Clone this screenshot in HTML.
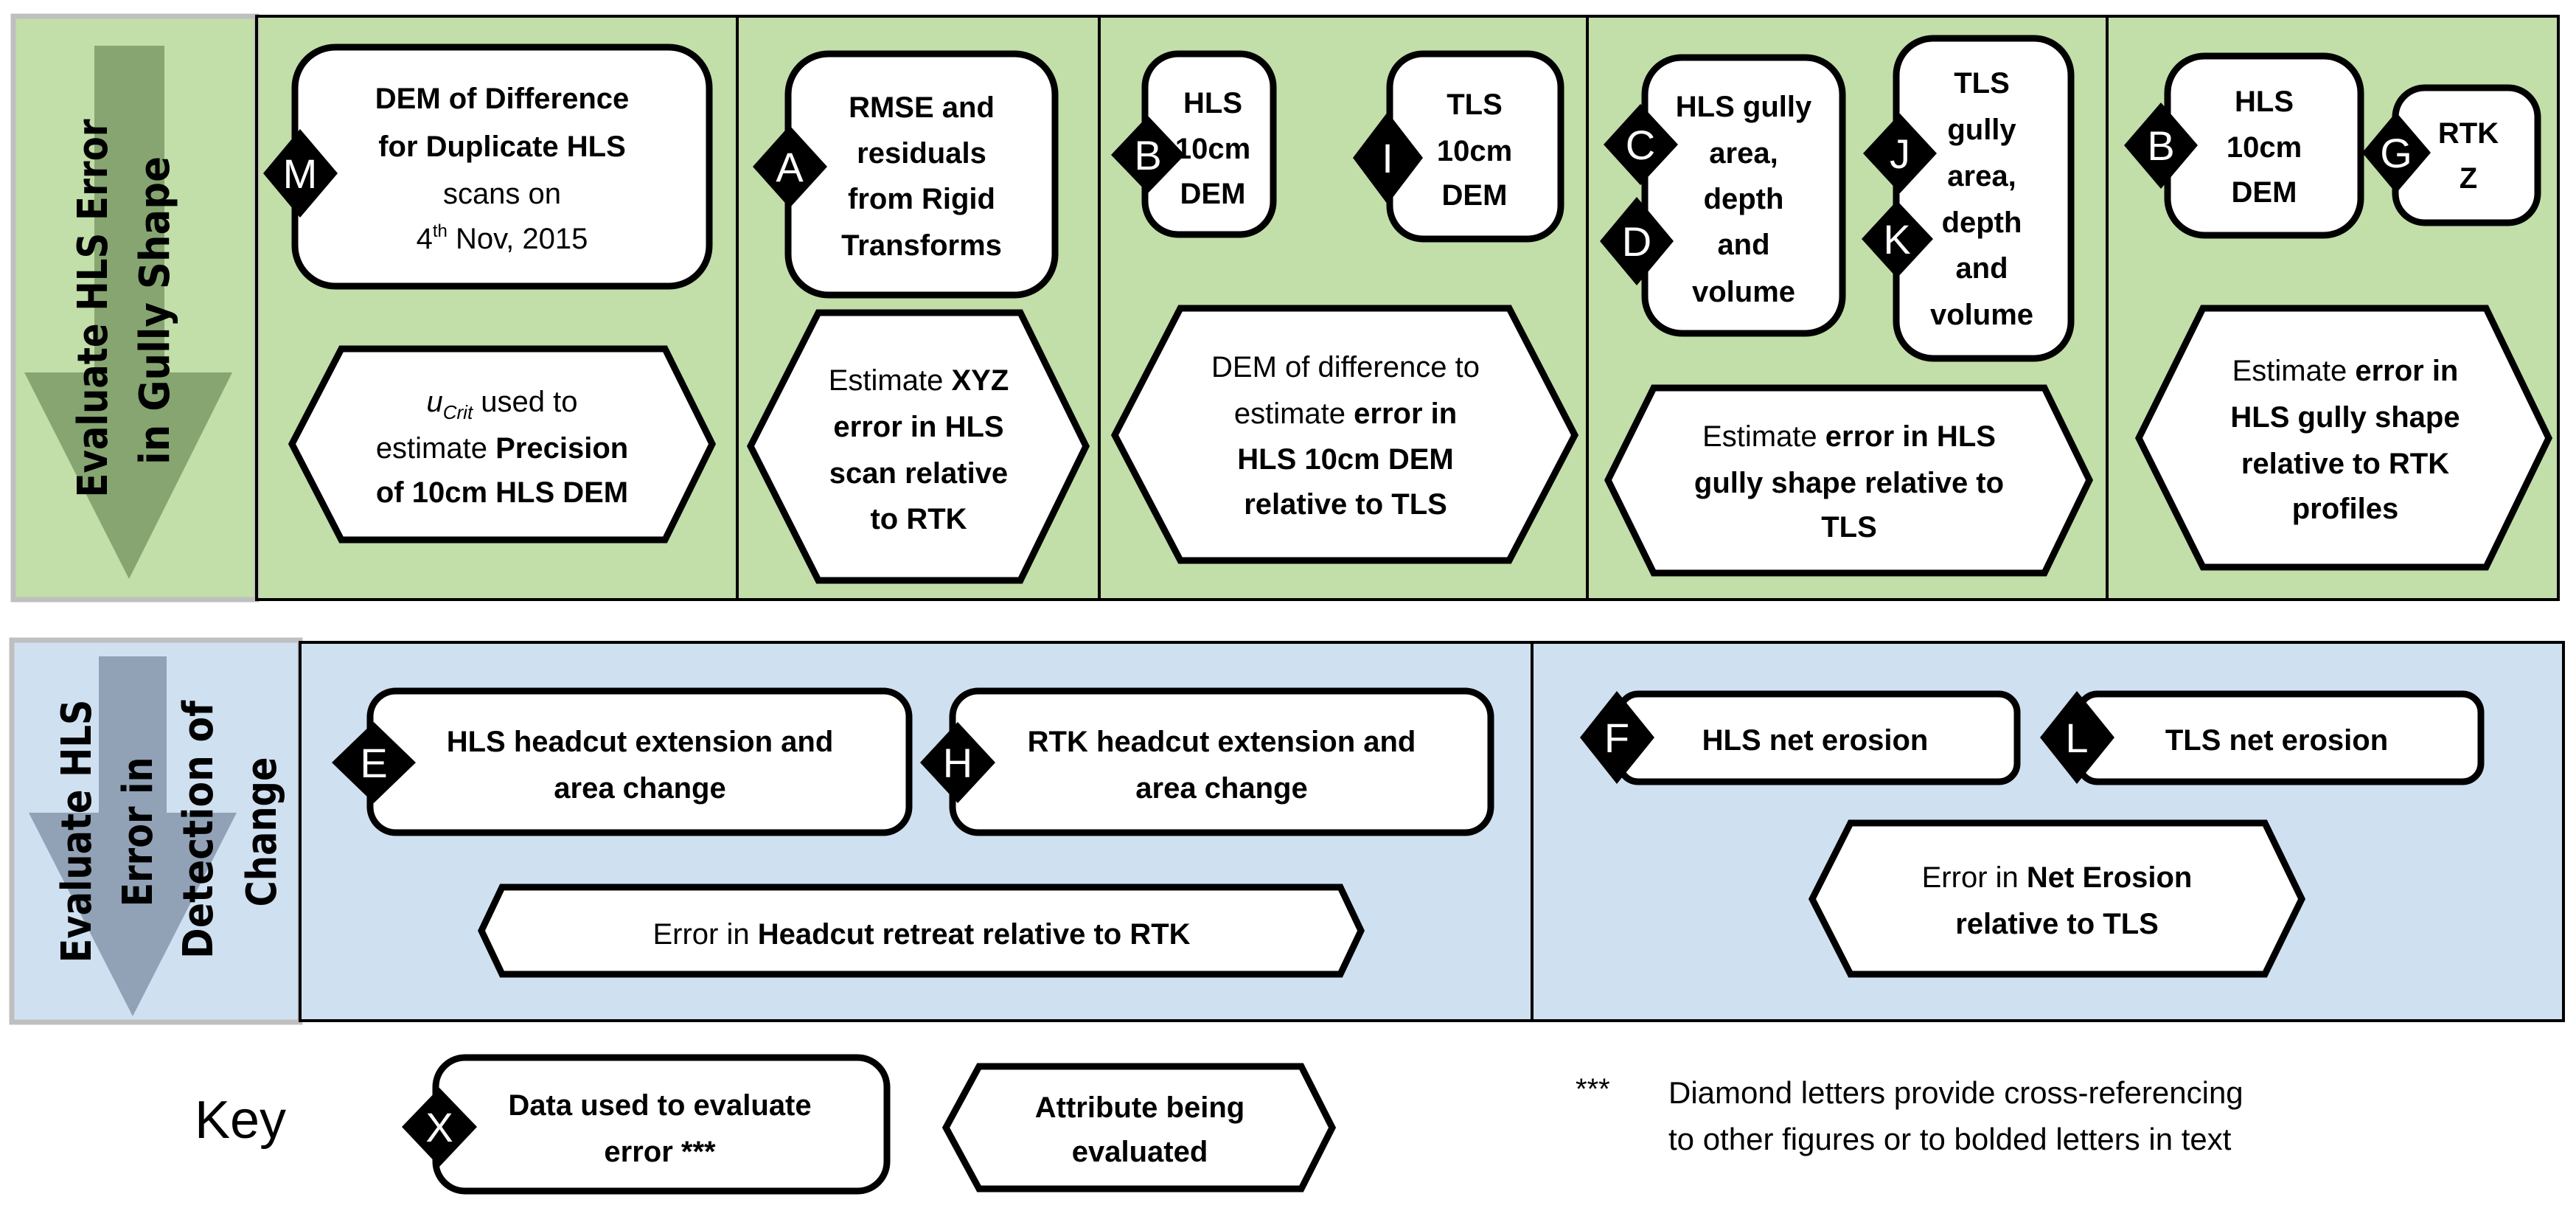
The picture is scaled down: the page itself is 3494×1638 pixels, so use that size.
<!DOCTYPE html>
<html><head><meta charset="utf-8"><style>
html,body{margin:0;padding:0;background:#fff}
svg{display:block}
text{font-family:"Liberation Sans",sans-serif;fill:#000}
.t{font-size:40px;text-anchor:middle}
.b{font-weight:bold}
.d{font-size:56px;fill:#fff;text-anchor:middle}
.box{fill:#fff;stroke:#000;stroke-width:9}
.lab{font-family:"DejaVu Sans",sans-serif;font-weight:bold;font-size:56px;text-anchor:middle}
</style></head><body>
<svg width="3494" height="1638" viewBox="0 0 3494 1638" xmlns="http://www.w3.org/2000/svg">
<!-- TOP PANEL -->
<rect x="18" y="22" width="3452" height="791" fill="#c2dea9"/>
<rect x="18" y="22" width="330" height="791" fill="#c2dea9" stroke="#bfbfbf" stroke-width="7"/>
<rect x="348" y="22" width="3122" height="791" fill="none" stroke="#000" stroke-width="4"/>
<g stroke="#000" stroke-width="4">
<line x1="1000" y1="22" x2="1000" y2="813"/><line x1="1491" y1="22" x2="1491" y2="813"/>
<line x1="2153" y1="22" x2="2153" y2="813"/><line x1="2858" y1="22" x2="2858" y2="813"/>
</g>
<polygon points="128,62 223,62 223,505 315,505 175,785 33,505 128,505" fill="#7f9f6a" opacity="0.9"/>
<text class="lab" transform="translate(145,418) rotate(-90)" textLength="513" lengthAdjust="spacingAndGlyphs">Evaluate HLS Error</text>
<text class="lab" transform="translate(229,421) rotate(-90)" textLength="418" lengthAdjust="spacingAndGlyphs">in Gully  Shape</text>

<!-- col1 -->
<rect class="box" x="400" y="64" width="562" height="324" rx="55"/>
<polygon points="407,175 458,235 407,295 357,235"/><text class="d" x="407" y="255">M</text>
<text class="t b" x="681" y="147">DEM of Difference</text>
<text class="t b" x="681" y="212">for Duplicate HLS</text>
<text class="t" x="681" y="276">scans on</text>
<text class="t" x="681" y="337">4<tspan font-size="24" dy="-16">th</tspan><tspan dy="16"> Nov, 2015</tspan></text>
<polygon class="box" points="463,473 902,473 966,602 902,732 463,732 396,602"/>
<text class="t" x="681" y="558"><tspan font-style="italic">u</tspan><tspan font-style="italic" font-size="26" dy="10">Crit</tspan><tspan dy="-10"> used to</tspan></text>
<text class="t" x="681" y="621">estimate <tspan class="b">Precision</tspan></text>
<text class="t b" x="681" y="681">of 10cm HLS DEM</text>

<!-- col2 -->
<rect class="box" x="1069" y="73" width="362" height="327" rx="55"/>
<polygon points="1071,170 1122,226 1071,282 1021,226"/><text class="d" x="1071" y="246">A</text>
<text class="t b" x="1250" y="159">RMSE and</text>
<text class="t b" x="1250" y="221">residuals</text>
<text class="t b" x="1250" y="283">from Rigid</text>
<text class="t b" x="1250" y="346">Transforms</text>
<polygon class="box" points="1110,424 1384,424 1473,605 1384,787 1110,787 1018,605"/>
<text class="t" x="1246" y="529">Estimate <tspan class="b">XYZ</tspan></text>
<text class="t b" x="1246" y="592">error in HLS</text>
<text class="t b" x="1246" y="655">scan relative</text>
<text class="t b" x="1246" y="717">to RTK</text>

<!-- col3 -->
<rect class="box" x="1553" y="73" width="174" height="245" rx="45"/>
<polygon points="1557,157 1607,210 1557,262 1507,210"/><text class="d" x="1557" y="230">B</text>
<text class="t b" x="1645" y="153">HLS</text><text class="t b" x="1645" y="215">10cm</text><text class="t b" x="1645" y="276">DEM</text>
<rect class="box" x="1885" y="73" width="232" height="251" rx="45"/>
<polygon points="1882,152 1930,214 1882,277 1835,214"/><text class="d" x="1882" y="234">I</text>
<text class="t b" x="2000" y="155">TLS</text><text class="t b" x="2000" y="218">10cm</text><text class="t b" x="2000" y="278">DEM</text>
<polygon class="box" points="1601,418 2047,418 2136,590 2047,760 1601,760 1512,590"/>
<text class="t" x="1825" y="511">DEM of difference to</text>
<text class="t" x="1825" y="574">estimate <tspan class="b">error in</tspan></text>
<text class="t b" x="1825" y="636">HLS 10cm DEM</text>
<text class="t b" x="1825" y="697">relative to TLS</text>

<!-- col4 -->
<rect class="box" x="2231" y="78" width="268" height="374" rx="50"/>
<polygon points="2225,141 2276,196 2225,251 2175,196"/><text class="d" x="2225" y="216">C</text>
<polygon points="2220,267 2270,327 2220,387 2170,327"/><text class="d" x="2220" y="347">D</text>
<text class="t b" x="2365" y="158">HLS gully</text><text class="t b" x="2365" y="221">area,</text>
<text class="t b" x="2365" y="283">depth</text><text class="t b" x="2365" y="345">and</text><text class="t b" x="2365" y="409">volume</text>
<rect class="box" x="2572" y="52" width="237" height="434" rx="50"/>
<polygon points="2577,154 2627,208 2577,262 2527,208"/><text class="d" x="2577" y="228">J</text>
<polygon points="2573,272 2622,324 2573,377 2525,324"/><text class="d" x="2573" y="344">K</text>
<text class="t b" x="2688" y="126">TLS</text><text class="t b" x="2688" y="189">gully</text><text class="t b" x="2688" y="252">area,</text>
<text class="t b" x="2688" y="315">depth</text><text class="t b" x="2688" y="377">and</text><text class="t b" x="2688" y="440">volume</text>
<polygon class="box" points="2243,526 2773,526 2834,651 2773,777 2243,777 2181,651"/>
<text class="t" x="2508" y="605">Estimate <tspan class="b">error in HLS</tspan></text>
<text class="t b" x="2508" y="668">gully shape relative to</text>
<text class="t b" x="2508" y="728">TLS</text>

<!-- col5 -->
<rect class="box" x="2940" y="76" width="262" height="243" rx="50"/>
<polygon points="2931,139 2981,197 2931,256 2881,197"/><text class="d" x="2931" y="217">B</text>
<text class="t b" x="3071" y="151">HLS</text><text class="t b" x="3071" y="213">10cm</text><text class="t b" x="3071" y="274">DEM</text>
<rect class="box" x="3249" y="119" width="193" height="183" rx="40"/>
<polygon points="3250,152 3297,207 3250,262 3204,207"/><text class="d" x="3250" y="227">G</text>
<text class="t b" x="3348" y="194">RTK</text><text class="t b" x="3348" y="255">Z</text>
<polygon class="box" points="2988,418 3372,418 3457,594 3372,769 2988,769 2901,594"/>
<text class="t" x="3181" y="516">Estimate <tspan class="b">error in</tspan></text>
<text class="t b" x="3181" y="579">HLS gully shape</text>
<text class="t b" x="3181" y="642">relative to RTK</text>
<text class="t b" x="3181" y="703">profiles</text>

<!-- BOTTOM PANEL -->
<rect x="16" y="868" width="391" height="518" fill="#cfe0f1" stroke="#bfbfbf" stroke-width="7"/>
<rect x="407" y="871" width="1671" height="513" fill="#cfe0f1" stroke="#000" stroke-width="4"/>
<rect x="2078" y="871" width="1399" height="513" fill="#cfe0f1" stroke="#000" stroke-width="4"/>
<polygon points="134,890 226,890 226,1102 321,1102 180,1378 39,1102 134,1102" fill="#8a9bb0" opacity="0.9"/>
<text class="lab" transform="translate(123,1127) rotate(-90)" textLength="357" lengthAdjust="spacingAndGlyphs">Evaluate HLS</text>
<text class="lab" transform="translate(206,1128) rotate(-90)" textLength="203" lengthAdjust="spacingAndGlyphs">Error in</text>
<text class="lab" transform="translate(288,1125) rotate(-90)" textLength="350" lengthAdjust="spacingAndGlyphs">Detection of</text>
<text class="lab" transform="translate(374,1128) rotate(-90)" textLength="203" lengthAdjust="spacingAndGlyphs">Change</text>

<rect class="box" x="502" y="937" width="731" height="192" rx="35"/>
<polygon points="507,979 564,1034 507,1089 450,1034"/><text class="d" x="507" y="1054">E</text>
<text class="t b" x="868" y="1019">HLS headcut extension and</text>
<text class="t b" x="868" y="1082">area change</text>
<rect class="box" x="1292" y="937" width="730" height="192" rx="35"/>
<polygon points="1299,979 1350,1034 1299,1089 1248,1034"/><text class="d" x="1299" y="1054">H</text>
<text class="t b" x="1657" y="1019">RTK headcut extension and</text>
<text class="t b" x="1657" y="1082">area change</text>
<polygon class="box" points="681,1203 1818,1203 1846,1262 1818,1321 681,1321 653,1262"/>
<text class="t" x="1250" y="1280">Error in <tspan class="b">Headcut retreat relative to RTK</tspan></text>

<rect class="box" x="2197" y="941" width="539" height="119" rx="25"/>
<polygon points="2193,937 2244,1000 2193,1063 2143,1000"/><text class="d" x="2193" y="1020">F</text>
<text class="t b" x="2462" y="1017">HLS net erosion</text>
<rect class="box" x="2820" y="941" width="545" height="119" rx="25"/>
<polygon points="2817,937 2868,1000 2817,1063 2767,1000"/><text class="d" x="2817" y="1020">L</text>
<text class="t b" x="3088" y="1017">TLS net erosion</text>
<polygon class="box" points="2510,1116 3072,1116 3122,1219 3072,1321 2510,1321 2458,1219"/>
<text class="t" x="2790" y="1203">Error in <tspan class="b">Net Erosion</tspan></text>
<text class="t b" x="2790" y="1266">relative to TLS</text>

<!-- KEY -->
<text x="326" y="1543" font-size="72" text-anchor="middle">Key</text>
<rect class="box" x="591" y="1434" width="612" height="181" rx="40"/>
<polygon points="596,1475 647,1528 596,1582 545,1528"/><text class="d" x="596" y="1548">X</text>
<text class="t b" x="895" y="1512">Data used to evaluate</text>
<text class="t b" x="895" y="1575">error ***</text>
<polygon class="box" points="1328,1446 1765,1446 1807,1529 1765,1612 1328,1612 1283,1529"/>
<text class="t b" x="1546" y="1515">Attribute being</text>
<text class="t b" x="1546" y="1575">evaluated</text>
<text x="2137" y="1490" font-size="40">***</text>
<text x="2263" y="1496" font-size="42">Diamond letters provide cross-referencing</text>
<text x="2263" y="1559" font-size="42">to other figures or to bolded letters in text</text>
</svg>
</body></html>
